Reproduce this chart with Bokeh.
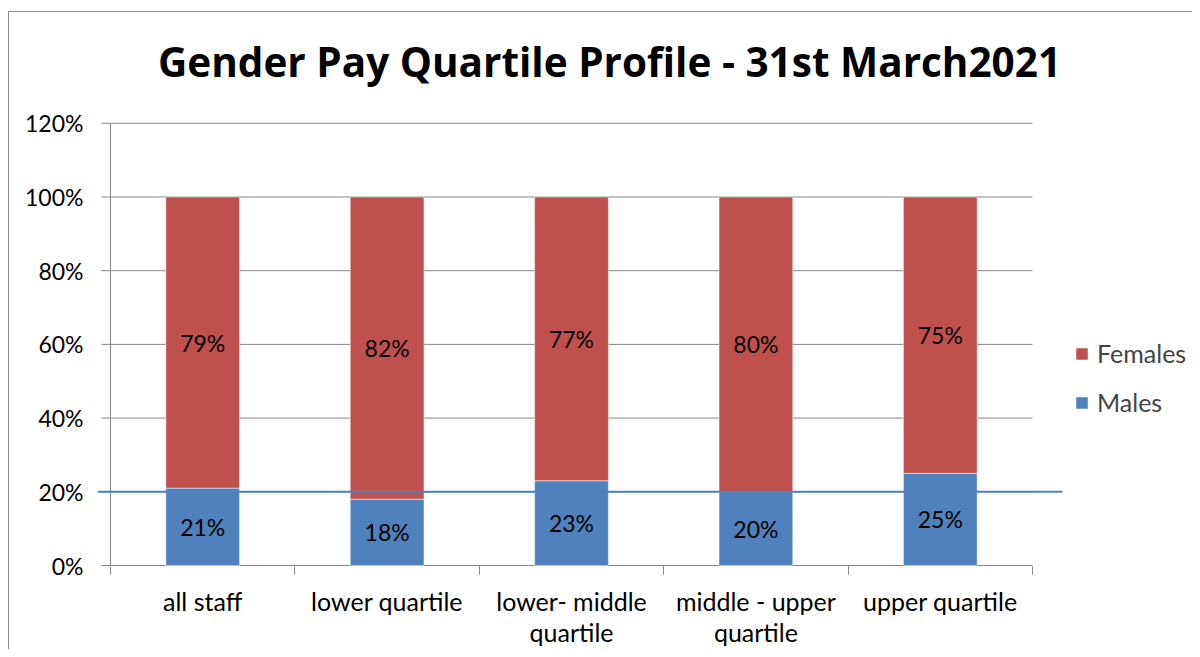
from bokeh.plotting import figure
from bokeh.models import ColumnDataSource, FixedTicker, Range1d, Legend, LegendItem, Label
from bokeh.embed import file_html
from bokeh.resources import INLINE
from bokeh.core.properties import value

# ---- data ----
categories = ["all staff", "lower quartile", "lower- middle\nquartile",
              "middle - upper\nquartile", "upper quartile"]
males = [21, 18, 23, 20, 25]
females = [79, 82, 77, 80, 75]
y_ticks = [0, 20, 40, 60, 80, 100, 120]
reference_level = 20
title_text = "Gender Pay Quartile Profile - 31st March2021"

BLUE = "#4F81BD"
RED = "#C0504D"
GRAY = "#868686"
FONT = "Lato"

n = len(categories)
W, H = 1192, 649
# pixel geometry of the chart (category 0..n spans 110..1032 px, 0..120% spans 566..123 px)
PX_X = (1032 - 110) / n
PX_Y = (566 - 123) / 120.0
FRAME_L, FRAME_B = 97, 567
x0 = -(110 - FRAME_L) / PX_X
x1 = x0 + (W - FRAME_L) / PX_X
y0 = -(FRAME_B - 566) / PX_Y
y1 = y0 + FRAME_B / PX_Y

p = figure(width=W, height=H, output_backend="svg", toolbar_location=None,
           x_range=Range1d(x0, x1), y_range=Range1d(y0, y1),
           min_border_left=FRAME_L, min_border_right=0, min_border_top=0,
           min_border_bottom=H - FRAME_B)
p.outline_line_color = None
p.border_fill_color = None
p.background_fill_color = None
p.styles = {
    "background": ("linear-gradient(#8c8c8c,#8c8c8c) 8px 11px / 100% 1px no-repeat, "
                   "linear-gradient(#8c8c8c,#8c8c8c) 8px 11px / 1px 100% no-repeat, white"),
}
p.xgrid.grid_line_color = None
p.ygrid.grid_line_color = None

xs = [i + 0.5 for i in range(n)]
src = ColumnDataSource(dict(
    x=xs, males=males, females=females,
    total=[m + f for m, f in zip(males, females)],
    m_mid=[m / 2 for m in males],
    f_mid=[m + f / 2 for m, f in zip(males, females)],
    m_lab=[f"{m}%" for m in males],
    f_lab=[f"{f}%" for f in females],
))

# horizontal gridlines, y axis line and its ticks
p.segment(x0=0, x1=n, y0=y_ticks, y1=y_ticks, line_color=GRAY, line_width=1)
p.segment(x0=[0], x1=[0], y0=[y_ticks[0]], y1=[y_ticks[-1]], line_color=GRAY, line_width=1)
p.segment(x0=-9 / PX_X, x1=0, y0=y_ticks, y1=y_ticks, line_color=GRAY, line_width=1)

r_m = p.vbar(x="x", top="males", bottom=0, width=0.4, source=src,
             fill_color=BLUE, line_color="white", line_alpha=0.5, line_width=1)
r_f = p.vbar(x="x", top="total", bottom="males", width=0.4, source=src,
             fill_color=RED, line_color="white", line_alpha=0.5, line_width=1)

for ycol, tcol in (("m_mid", "m_lab"), ("f_mid", "f_lab")):
    p.text(x="x", y=ycol, text=tcol, source=src, text_align="center",
           text_baseline="middle", text_font=value(FONT), text_font_size="23px",
           text_color="black")

# reference line at 20% (extends a little beyond the category area)
p.segment(x0=[-13 / PX_X], x1=[n + 30 / PX_X], y0=[reference_level], y1=[reference_level],
          line_color=BLUE, line_width=2)

# y axis: labels only (line/ticks drawn above)
p.yaxis.ticker = FixedTicker(ticks=y_ticks)
p.yaxis.major_label_overrides = {t: f"{t}%" for t in y_ticks}
p.yaxis.major_tick_out = 0
p.yaxis.major_tick_in = 0
p.yaxis.major_tick_line_color = None
p.yaxis.minor_tick_line_color = None
p.yaxis.axis_line_color = None
p.yaxis.major_label_standoff = 14
p.yaxis.major_label_text_font_size = "23px"

# x axis: boundary ticks + category labels
p.xaxis.ticker = FixedTicker(ticks=xs, minor_ticks=list(range(n + 1)))
p.xaxis.major_label_overrides = {x: c for x, c in zip(xs, categories)}
p.xaxis.major_tick_line_color = None
p.xaxis.major_tick_out = 8
p.xaxis.major_tick_in = 0
p.xaxis.minor_tick_in = 0
p.xaxis.minor_tick_out = 8
p.xaxis.minor_tick_line_color = GRAY
p.xaxis.axis_line_color = None
p.xaxis.major_label_standoff = 11
p.xaxis.major_label_text_line_height = 1.04
p.xaxis.major_label_text_font_size = "25px"

for ax in (p.xaxis, p.yaxis):
    ax.major_label_text_font = FONT
    ax.major_label_text_color = "black"

# title
p.add_layout(Label(x=(609 - 110) / PX_X, y=(566 - 61) / PX_Y, text=title_text,
                   text_align="center", text_baseline="middle",
                   text_font="Open Sans", text_font_style="bold",
                   text_font_size="40.5px", text_color="black"))

legend = Legend(items=[LegendItem(label="Females", renderers=[r_f]),
                       LegendItem(label="Males", renderers=[r_m])],
                location=(1074 - FRAME_L, FRAME_B - 418), orientation="vertical",
                glyph_width=15, glyph_height=15, label_standoff=8,
                label_text_font=FONT, label_text_font_size="25px",
                spacing=19, padding=0, margin=0,
                border_line_color=None, background_fill_alpha=0)
p.add_layout(legend)

open("out.html", "w").write(file_html(p, INLINE))
